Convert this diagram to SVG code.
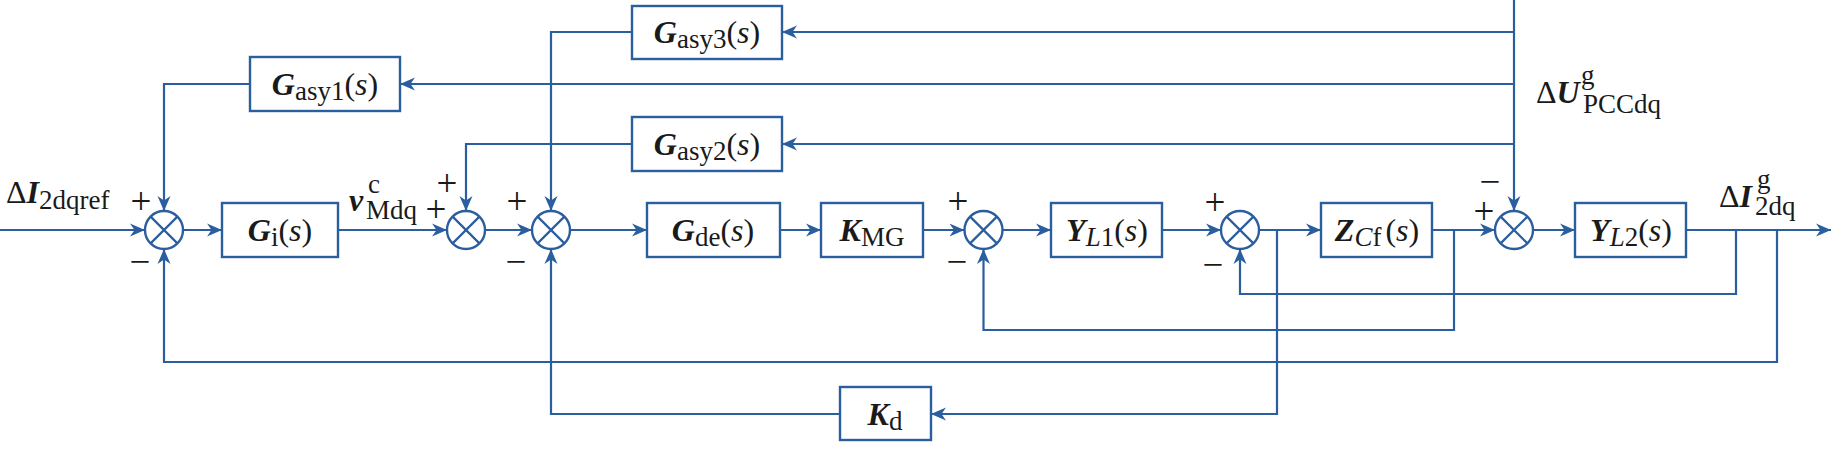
<svg xmlns="http://www.w3.org/2000/svg" width="1845" height="454" viewBox="0 0 1845 454">
<style>
.ln{fill:none;stroke:#2b5e9f;stroke-width:2.2}
.bx{fill:#fff;stroke:#2b5e9f;stroke-width:2.4}
.sj{fill:#fff;stroke:#2b5e9f;stroke-width:2.4}
.x{stroke:#2b5e9f;stroke-width:2.2}
text{font-family:"Liberation Serif","Times New Roman",serif;fill:#1a1a1a;font-size:32px}
.bt{text-anchor:middle}
.b{font-weight:bold;font-style:italic}
.i{font-style:italic}
.sub{font-size:27px}
.sg{font-size:37px;text-anchor:middle}
</style>
<defs>
<marker id="ar" markerUnits="userSpaceOnUse" markerWidth="16" markerHeight="14" refX="15" refY="7" orient="auto">
<path d="M0,0.5 L15,7 L0,13.5 L4.5,7 Z" fill="#2b5e9f"/>
</marker>
</defs>
<rect width="1845" height="454" fill="#fff"/>
<g id="connectors">
<path class="ln" d="M0,230 H145" marker-end="url(#ar)"/>
<path class="ln" d="M183,230 H222" marker-end="url(#ar)"/>
<path class="ln" d="M338,230 H447" marker-end="url(#ar)"/>
<path class="ln" d="M485,230 H532" marker-end="url(#ar)"/>
<path class="ln" d="M570,230 H647" marker-end="url(#ar)"/>
<path class="ln" d="M780,230 H821" marker-end="url(#ar)"/>
<path class="ln" d="M923,230 H964.5" marker-end="url(#ar)"/>
<path class="ln" d="M1002.5,230 H1051" marker-end="url(#ar)"/>
<path class="ln" d="M1162,230 H1221" marker-end="url(#ar)"/>
<path class="ln" d="M1259,230 H1321" marker-end="url(#ar)"/>
<path class="ln" d="M1432,230 H1495" marker-end="url(#ar)"/>
<path class="ln" d="M1533,230 H1575" marker-end="url(#ar)"/>
<path class="ln" d="M1686,230 H1831" marker-end="url(#ar)"/>
<path class="ln" d="M1736,230 V294 H1240 V249" marker-end="url(#ar)"/>
<path class="ln" d="M1777,230 V362 H164 V249" marker-end="url(#ar)"/>
<path class="ln" d="M1454,230 V330 H983.5 V249" marker-end="url(#ar)"/>
<path class="ln" d="M1277,230 V414 H931" marker-end="url(#ar)"/>
<path class="ln" d="M840,414 H551 V249" marker-end="url(#ar)"/>
<path class="ln" d="M1514,0 V211" marker-end="url(#ar)"/>
<path class="ln" d="M1514,32 H782" marker-end="url(#ar)"/>
<path class="ln" d="M632,32 H551 V211" marker-end="url(#ar)"/>
<path class="ln" d="M1514,84 H400" marker-end="url(#ar)"/>
<path class="ln" d="M250,84 H164 V211" marker-end="url(#ar)"/>
<path class="ln" d="M1514,144 H782" marker-end="url(#ar)"/>
<path class="ln" d="M632,144 H466 V211" marker-end="url(#ar)"/>
</g>
<g id="sum1"><circle class="sj" cx="164" cy="230" r="19"/><path class="x" d="M150.6,216.6 L177.4,243.4 M177.4,216.6 L150.6,243.4"/><text class="sg" x="141" y="214">+</text><text class="sg" x="140" y="274">−</text></g>
<g id="sum2"><circle class="sj" cx="466" cy="230" r="19"/><path class="x" d="M452.6,216.6 L479.4,243.4 M479.4,216.6 L452.6,243.4"/><text class="sg" x="447" y="196">+</text><text class="sg" x="436" y="222">+</text></g>
<g id="sum3"><circle class="sj" cx="551" cy="230" r="19"/><path class="x" d="M537.6,216.6 L564.4,243.4 M564.4,216.6 L537.6,243.4"/><text class="sg" x="517" y="214">+</text><text class="sg" x="516" y="274">−</text></g>
<g id="sum4"><circle class="sj" cx="983.5" cy="230" r="19"/><path class="x" d="M970.1,216.6 L996.9,243.4 M996.9,216.6 L970.1,243.4"/><text class="sg" x="958" y="214">+</text><text class="sg" x="957" y="274">−</text></g>
<g id="sum5"><circle class="sj" cx="1240" cy="230" r="19"/><path class="x" d="M1226.6,216.6 L1253.4,243.4 M1253.4,216.6 L1226.6,243.4"/><text class="sg" x="1215" y="215">+</text><text class="sg" x="1213" y="277">−</text></g>
<g id="sum6"><circle class="sj" cx="1514" cy="230" r="19"/><path class="x" d="M1500.6,216.6 L1527.4,243.4 M1527.4,216.6 L1500.6,243.4"/><text class="sg" x="1490" y="194">−</text><text class="sg" x="1484" y="224">+</text></g>
<g id="Gasy3"><rect class="bx" x="632" y="6" width="150" height="53"/><text class="bt" x="707" y="43"><tspan class="b">G</tspan><tspan class="sub" dy="5">asy3</tspan><tspan dy="-5">(</tspan><tspan class="i">s</tspan>)</text></g>
<g id="Gasy1"><rect class="bx" x="250" y="57" width="150" height="54"/><text class="bt" x="325" y="95"><tspan class="b">G</tspan><tspan class="sub" dy="5">asy1</tspan><tspan dy="-5">(</tspan><tspan class="i">s</tspan>)</text></g>
<g id="Gasy2"><rect class="bx" x="632" y="117" width="150" height="54"/><text class="bt" x="707" y="155"><tspan class="b">G</tspan><tspan class="sub" dy="5">asy2</tspan><tspan dy="-5">(</tspan><tspan class="i">s</tspan>)</text></g>
<g id="Gi"><rect class="bx" x="222" y="203" width="116" height="54"/><text class="bt" x="280" y="241"><tspan class="b">G</tspan><tspan class="sub" dy="5">i</tspan><tspan dy="-5">(</tspan><tspan class="i">s</tspan>)</text></g>
<g id="Gde"><rect class="bx" x="647" y="203" width="133" height="54"/><text class="bt" x="713" y="241"><tspan class="b">G</tspan><tspan class="sub" dy="5">de</tspan><tspan dy="-5">(</tspan><tspan class="i">s</tspan>)</text></g>
<g id="KMG"><rect class="bx" x="821" y="203" width="102" height="54"/><text class="bt" x="872" y="241"><tspan class="b">K</tspan><tspan class="sub" dy="5">MG</tspan></text></g>
<g id="YL1"><rect class="bx" x="1051" y="203" width="111" height="54"/><text class="bt" x="1107" y="241"><tspan class="b">Y</tspan><tspan class="sub i" dy="5">L</tspan><tspan class="sub">1</tspan><tspan dy="-5">(</tspan><tspan class="i">s</tspan>)</text></g>
<g id="ZCf"><rect class="bx" x="1321" y="203" width="111" height="54"/><text class="bt" x="1377" y="241"><tspan class="b">Z</tspan><tspan class="sub i" dy="5">C</tspan><tspan class="sub">f</tspan><tspan dy="-5" dx="4">(</tspan><tspan class="i">s</tspan>)</text></g>
<g id="YL2"><rect class="bx" x="1575" y="203" width="111" height="54"/><text class="bt" x="1631" y="241"><tspan class="b">Y</tspan><tspan class="sub i" dy="5">L</tspan><tspan class="sub">2</tspan><tspan dy="-5">(</tspan><tspan class="i">s</tspan>)</text></g>
<g id="Kd"><rect class="bx" x="840" y="387" width="91" height="53"/><text class="bt" x="885" y="425"><tspan class="b">K</tspan><tspan class="sub" dy="5">d</tspan></text></g>
<g id="labels">
<text x="6" y="203">Δ<tspan class="b">I</tspan><tspan class="sub" dy="6">2dqref</tspan></text>
<text x="349" y="211"><tspan class="b">v</tspan><tspan class="sub" x="368" y="193">c</tspan></text>
<text class="sub" x="366" y="219">Mdq</text>
<text x="1536" y="103">Δ<tspan class="b">U</tspan><tspan class="sub" x="1581" y="84">g</tspan><tspan class="sub" x="1583" y="113">PCCdq</tspan></text>
<text x="1719" y="207">Δ<tspan class="b">I</tspan><tspan class="sub" x="1757" y="188">g</tspan><tspan class="sub" x="1755" y="215">2dq</tspan></text>
</g>
</svg>
